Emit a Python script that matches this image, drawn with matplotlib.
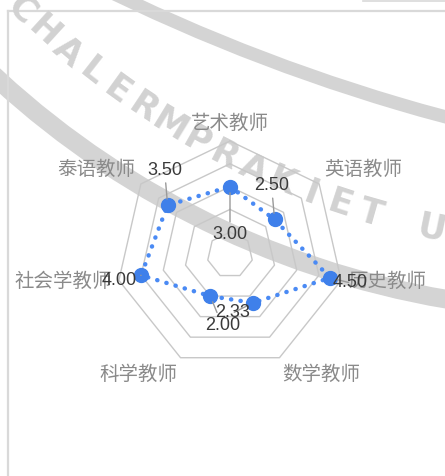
import numpy as np
import matplotlib
matplotlib.use("Agg")
import matplotlib.pyplot as plt
from matplotlib.patches import Arc

# ---------------- data ----------------
categories = ["艺术教师", "英语教师", "历史教师", "数学教师", "科学教师", "社会学教师", "泰语教师"]
values = [3.00, 2.50, 4.50, 2.33, 2.00, 4.00, 3.50]
value_labels = ["3.00", "2.50", "4.50", "2.33", "2.00", "4.00", "3.50"]
ring_levels = [1, 2, 3, 4, 5]
r_max = 5

# label offsets (pixels, x right / y up) relative to each point
label_offsets = [(0, -48), (-3, 34), (20, -5), (-20, -10), (12, -29), (-22, -5), (-3, 35)]

W, H = 445, 476
fig = plt.figure(figsize=(W / 100, H / 100), dpi=100)
fig.patch.set_facecolor("white")

# ---------------- background (frame + watermark) ----------------
bg = fig.add_axes([0, 0, 1, 1], zorder=0)
bg.set_xlim(0, W)
bg.set_ylim(H, 0)
bg.axis("off")

wm = "#d4d4d4"
# inner band
bg.add_patch(Arc((596, -573), 2 * 885, 2 * 885, theta1=80, theta2=150,
                 color=wm, lw=13.5))
# upper band
bg.add_patch(Arc((932, -1699), 2 * 1880, 2 * 1880, theta1=95, theta2=118,
                 color=wm, lw=9.5))
# watermark lettering along the arc
wm_text = "CHALERMPRAKIET U"
phi0, step, rad = 134.6, 2.2, 818
for i, ch in enumerate(wm_text):
    if ch == " ":
        continue
    phi = np.deg2rad(phi0 - i * step)
    x = 596 + rad * np.cos(phi)
    y = -573 + rad * np.sin(phi)
    bg.text(x, y, ch, fontsize=25, fontweight="bold", color="#d2d2d2",
            rotation=90 - np.rad2deg(phi), rotation_mode="anchor",
            ha="center", va="center", family="DejaVu Sans")

# frame
frame_c = "#d9d9d9"
bg.plot([8, 8], [11, H], color=frame_c, lw=1.6)
bg.plot([8, W], [11, 11], color=frame_c, lw=1.6)
bg.plot([363, W], [0.5, 0.5], color=frame_c, lw=1.2)

# ---------------- radar ----------------
cx, cy, Rpx = 230, 255, 114
ax = fig.add_axes([(cx - Rpx) / W, (H - cy - Rpx) / H, 2 * Rpx / W, 2 * Rpx / H],
                  projection="polar", zorder=1)
ax.set_facecolor("none")
ax.set_theta_zero_location("N")
ax.set_theta_direction(-1)
ax.grid(False)
ax.set_xticks([])
ax.set_yticks([])
ax.spines["polar"].set_visible(False)

n = len(categories)
angles = np.linspace(0, 2 * np.pi, n, endpoint=False)
closed = np.append(angles, angles[0])

for lv in ring_levels:
    ax.plot(closed, [lv] * (n + 1), color="#c8c8c8", lw=1.0, clip_on=False, zorder=1)

vals_closed = np.append(values, values[0])
ax.plot(closed, vals_closed, color="#4a8af4", lw=3.2,
        linestyle=(0, (0.05, 2.1)), dash_capstyle="round", clip_on=False, zorder=3)
ax.plot(angles, values, linestyle="none", marker="o", markersize=10,
        color="#3f80ea", clip_on=False, zorder=4)

# category labels
cat_font = ["Noto Sans CJK SC", "DejaVu Sans"]
for ang, cat in zip(angles, categories):
    s, c = np.sin(ang), np.cos(ang)
    ha = "left" if s > 0.1 else ("right" if s < -0.1 else "center")
    va = "bottom" if c > 0.5 else ("top" if c < -0.5 else "center")
    ax.text(ang, 5.3, cat, ha=ha, va=va, fontsize=14, color="#8a8a8a",
            family=cat_font, zorder=2)

# value labels with leader lines
for ang, v, lab, off in zip(angles, values, value_labels, label_offsets):
    ax.annotate(lab, xy=(ang, v), xytext=off, textcoords="offset pixels",
                ha="center", va="center", fontsize=13, color="#3a3a3a",
                family=["Liberation Sans", "DejaVu Sans"], zorder=5,
                annotation_clip=False,
                arrowprops=dict(arrowstyle="-", color="#9a9a9a", lw=1.0,
                                shrinkA=1, shrinkB=4.5))

ax.set_ylim(0, r_max)

fig.savefig("out.png", dpi=100, facecolor="white")
